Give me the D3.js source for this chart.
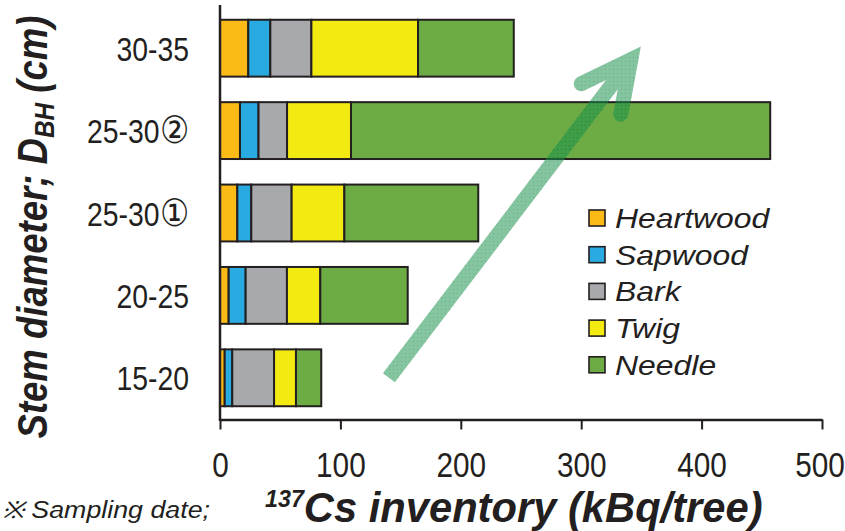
<!DOCTYPE html>
<html>
<head>
<meta charset="utf-8">
<script src="https://cdn.jsdelivr.net/npm/d3@7"></script>
<style>
  html, body { margin: 0; padding: 0; background: #fff; }
  svg { display: block; }
</style>
</head>
<body>
<svg id="chart" width="845" height="531"></svg>
<script>
// Stem diameter classes, bottom to top
const categories = ["15-20", "20-25", "25-30①", "25-30②", "30-35"];

// 137Cs inventory per tree part (kBq/tree)
const heartwood = [3.9, 7.2, 14.4, 16.6, 23.5];
const sapwood   = [6.3, 14.1, 11.6, 15.4, 18.3];
const bark      = [34.7, 34.3, 33.5, 23.7, 34.1];
const twig      = [18.2, 27.7, 43.8, 53.1, 88.6];
const needle    = [21.0, 72.6, 111.2, 348.2, 79.5];

const partNames = ["Heartwood", "Sapwood", "Bark", "Twig", "Needle"];
const partColors = ["#FBBA16", "#29ABE2", "#A7A9AC", "#F3EA12", "#6DAB45"];

const xTicks = [0, 100, 200, 300, 400, 500];

// Trend arrow, in (kBq/tree, diameter-class index) units
const arrowShaft = [[140.3, 0.0], [341.2, 3.86]];
const arrowHead  = [[300.0, 3.57], [341.2, 3.86], [332.9, 3.20]];

const series = [heartwood, sapwood, bark, twig, needle];
const rows = categories.map((c, i) => {
  const r = { category: c };
  partNames.forEach((p, k) => { r[p] = series[k][i]; });
  return r;
});
const stacked = d3.stack().keys(partNames)(rows);

const svg = d3.select("#chart");
const ink = "#231F20";
const sans = "'Liberation Sans', Arial, Helvetica, sans-serif";

const x = d3.scaleLinear().domain([0, 500]).range([220, 822]);
const y = d3.scaleBand()
  .domain(categories.slice().reverse())
  .range([7, 419])
  .paddingInner(0.31)
  .paddingOuter(0.155);
const yIdx = d3.scaleLinear()
  .domain([0, categories.length - 1])
  .range([y(categories[0]) + y.bandwidth() / 2,
          y(categories[categories.length - 1]) + y.bandwidth() / 2]);

// Stacked bars
svg.append("g")
  .selectAll("g")
  .data(stacked)
  .join("g")
  .attr("fill", (d, i) => partColors[i])
  .selectAll("rect")
  .data(d => d)
  .join("rect")
  .attr("x", d => x(d[0]))
  .attr("y", d => y(d.data.category))
  .attr("width", d => x(d[1]) - x(d[0]))
  .attr("height", y.bandwidth())
  .attr("stroke", ink)
  .attr("stroke-width", 2);

// Dotted fill for the trend arrow
const defs = svg.append("defs");
const pat = defs.append("pattern")
  .attr("id", "arrowDots")
  .attr("patternUnits", "userSpaceOnUse")
  .attr("width", 4).attr("height", 4);
pat.append("rect").attr("width", 4).attr("height", 4).attr("fill", "#16934B");
pat.append("rect").attr("x", 1).attr("y", 1).attr("width", 1).attr("height", 1).attr("fill", "#06502A");

const line = d3.line().x(d => x(d[0])).y(d => yIdx(d[1]));
const arrow = svg.append("g").attr("opacity", 0.53);
arrow.append("path")
  .attr("d", line(arrowShaft))
  .attr("fill", "none")
  .attr("stroke", "url(#arrowDots)")
  .attr("stroke-width", 15)
  .attr("stroke-linecap", "butt");
arrow.append("path")
  .attr("d", line(arrowHead))
  .attr("fill", "none")
  .attr("stroke", "url(#arrowDots)")
  .attr("stroke-width", 15)
  .attr("stroke-linecap", "round")
  .attr("stroke-linejoin", "miter")
  .attr("stroke-miterlimit", 6);

// X axis
const xAxis = svg.append("g")
  .attr("transform", "translate(0,419.5)")
  .call(d3.axisBottom(x).tickValues(xTicks).tickFormat(d3.format("d")).tickSize(10).tickSizeOuter(0));
xAxis.select(".domain").attr("stroke", ink).attr("stroke-width", 2.5);
xAxis.selectAll(".tick line").attr("stroke", ink).attr("stroke-width", 2);
xAxis.selectAll(".tick text")
  .attr("y", 57.5).attr("dy", null)
  .attr("x", (d, i, n) => (i === n.length - 1 ? -3 : 0))
  .attr("transform", "scale(0.85,1)")
  .attr("fill", ink)
  .style("font-family", sans)
  .style("font-size", "35px");

// Y axis
const yAxis = svg.append("g")
  .attr("transform", "translate(220,0)")
  .call(d3.axisLeft(y).tickSize(0).tickSizeOuter(0));
yAxis.select(".domain").attr("d", "M0,5V421").attr("stroke", ink).attr("stroke-width", 2.5);
yAxis.selectAll(".tick text")
  .attr("x", 0)
  .attr("dy", "0.38em")
  .attr("transform", "translate(-31,0) scale(0.86,1)")
  .attr("fill", ink)
  .style("font-family", sans)
  .style("font-size", "33px")
  .each(function (d) {
    // Circled sample numbers are set a little larger than the digits
    const m = d.match(/^(.*?)([\u2460-\u2473])$/);
    if (!m) return;
    const t = d3.select(this).text(null);
    t.append("tspan").text(m[1]);
    t.append("tspan").style("font-size", "38px").attr("dx", 1).text(m[2]);
  });

// Legend
const legend = svg.append("g");
partNames.forEach((p, i) => {
  const cy = 218 + i * 36.7;
  legend.append("rect")
    .attr("x", 589).attr("y", cy - 8)
    .attr("width", 16).attr("height", 16)
    .attr("fill", partColors[i])
    .attr("stroke", ink).attr("stroke-width", 1.6);
  legend.append("text")
    .attr("transform", `translate(615,${cy + 10}) scale(1.12,1)`)
    .attr("fill", ink)
    .style("font-family", sans)
    .style("font-style", "italic")
    .style("font-size", "28.5px")
    .text(p);
});

// Axis titles
const xTitle = svg.append("text")
  .attr("transform", "translate(265,522) scale(0.97,1)")
  .attr("fill", ink)
  .style("font-family", sans)
  .style("font-style", "italic")
  .style("font-weight", "bold");
xTitle.append("tspan").style("font-size", "24px").attr("dy", -15).text("137");
xTitle.append("tspan").style("font-size", "43px").attr("dy", 15).text("Cs inventory (kBq/tree)");

const yTitle = svg.append("text")
  .attr("transform", "translate(47,227) rotate(-90) scale(0.87,1)")
  .attr("text-anchor", "middle")
  .attr("fill", ink)
  .style("font-family", sans)
  .style("font-style", "italic")
  .style("font-weight", "bold")
  .style("font-size", "42px");
yTitle.append("tspan").text("Stem diameter; D");
yTitle.append("tspan").style("font-size", "28px").attr("dy", 7).text("BH");
yTitle.append("tspan").attr("dy", -7).text(" (cm)");

// Footnote
svg.append("text")
  .attr("transform", "translate(210,518) scale(1.14,1)")
  .attr("text-anchor", "end")
  .attr("fill", ink)
  .style("font-family", sans)
  .style("font-style", "italic")
  .style("font-size", "23.5px")
  .text("※ Sampling date;");
</script>
</body>
</html>
